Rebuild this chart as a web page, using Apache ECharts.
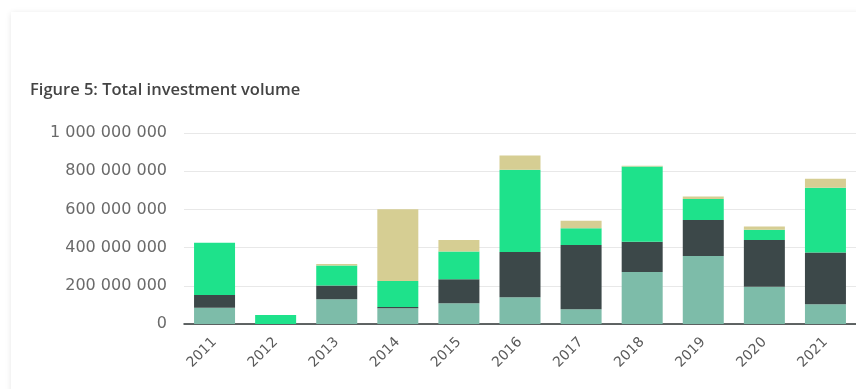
<!DOCTYPE html>
<html>
<head>
<meta charset="utf-8">
<script src="https://cdn.jsdelivr.net/npm/echarts@6/dist/echarts.min.js"></script>
<style>
html,body{margin:0;padding:0;background:#fff;}
#chart{width:856px;height:389px;}
</style>
</head>
<body>
<div id="chart"></div>
<script>
var years = ['2011','2012','2013','2014','2015','2016','2017','2018','2019','2020','2021'];
var seriesA = [85000000, 0, 129000000, 82000000, 108000000, 140000000, 77000000, 272000000, 356000000, 195000000, 103000000];
var seriesB = [67000000, 0, 72000000, 7000000, 126000000, 237000000, 337000000, 159000000, 189000000, 245000000, 271000000];
var seriesC = [274000000, 47000000, 105000000, 136000000, 145000000, 430000000, 87000000, 393000000, 110000000, 53000000, 340000000];
var seriesD = [0, 0, 8000000, 376000000, 61000000, 75000000, 39000000, 4000000, 12000000, 17000000, 47000000];
var yTicks = [0, 200000000, 400000000, 600000000, 800000000, 1000000000];

function fmt(v){
  return String(Math.round(v)).replace(/\B(?=(\d{3})+(?!\d))/g, ' ');
}

var chart = echarts.init(document.getElementById('chart'));
var colors = ['#7dbca9', '#3c4849', '#1ee28b', '#d6ce93'];
var names = ['A','B','C','D'];
var datas = [seriesA, seriesB, seriesC, seriesD];

chart.setOption({
  animation: false,
  backgroundColor: '#ffffff',
  graphic: [
    {type:'rect', left: 11, top: 12, shape:{width: 900, height: 420},
     style:{fill:'#ffffff', shadowBlur: 6, shadowColor:'rgba(0,0,0,0.10)', shadowOffsetY: 1}, z: -10}
  ],
  title: {
    text: 'Figure 5: Total investment volume',
    left: 25, top: 77,
    textStyle: {fontFamily: 'Open Sans', fontSize: 16.5, fontWeight: 600, color: '#444'}
  },
  grid: {left: 184, top: 133, width: 675, bottom: 65, containLabel: false},
  xAxis: {
    type: 'category',
    data: years,
    axisLine: {show: true, lineStyle: {color: '#2e3535', width: 1.5}},
    axisTick: {show: false},
    axisLabel: {rotate: 45, margin: 16, padding: [22, 0, 0, 0], fontFamily: 'DejaVu Sans', fontSize: 14, color: '#5a5a5a'}
  },
  yAxis: {
    type: 'value',
    min: yTicks[0], max: yTicks[yTicks.length-1], interval: yTicks[1]-yTicks[0],
    axisLine: {show: false},
    axisTick: {show: false},
    splitLine: {lineStyle: {color: '#e8e8e8', width: 1}},
    axisLabel: {margin: 17, fontFamily: 'DejaVu Sans', fontSize: 16, color: '#6a6a6a', formatter: fmt}
  },
  series: datas.map(function(d, i){
    return {name: names[i], type: 'bar', stack: 'total', data: d, barWidth: 41,
            itemStyle: {color: colors[i]}};
  })
});
</script>
</body>
</html>
